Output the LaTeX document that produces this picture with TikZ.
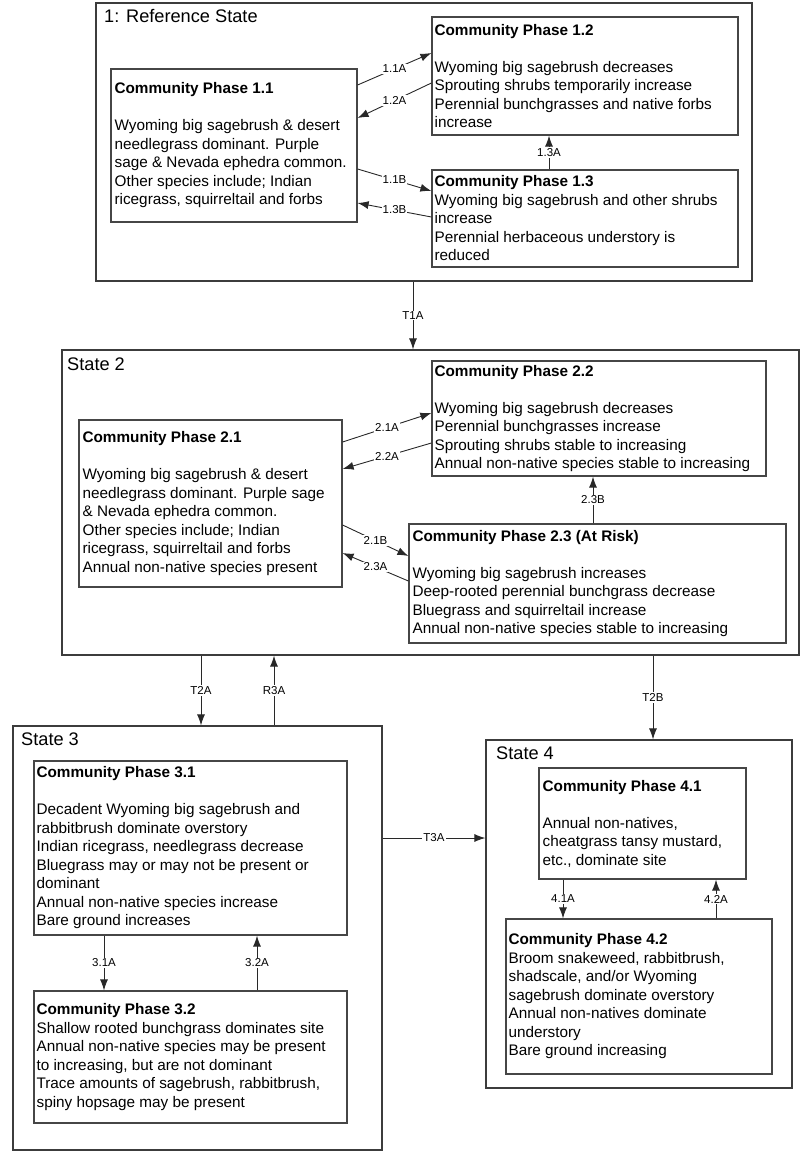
\documentclass[tikz,border=0pt]{standalone}
\usepackage{fontspec}
\setmainfont{Liberation Sans}
\usetikzlibrary{arrows.meta}
\begin{document}
\begin{tikzpicture}[x=1pt,y=-1pt,
  statebox/.style={draw={rgb,255:red,60;green,60;blue,60}, line width=1.2pt, rectangle, inner sep=0pt},
  cpbox/.style={draw={rgb,255:red,70;green,70;blue,70}, line width=1.2pt, rectangle, inner sep=0pt},
  body/.style={align=left, inner sep=0pt, font=\fontsize{15.3}{18.5}\selectfont},
  stitle/.style={inner sep=0pt, font=\fontsize{18.2}{22}\selectfont},
  conn/.style={draw={rgb,255:red,40;green,40;blue,40}, line width=0.9pt, -{Latex[length=11pt,width=8pt]}},
  lab/.style={fill=white, inner sep=1pt, font=\fontsize{11.5}{13}\selectfont}
]
\useasboundingbox (0,0) rectangle (800,1152);

% states
\node[statebox, minimum width=656pt, minimum height=278pt] (s1) at (424,142) {};
\node[statebox, minimum width=737pt, minimum height=305pt] (s2) at (430.5,502.5) {};
\node[statebox, minimum width=369pt, minimum height=424pt] (s3) at (197.5,938) {};
\node[statebox, minimum width=306pt, minimum height=348pt] (s4) at (639,914) {};
\node[stitle, anchor=base west] (s1t) at (104,22.5) {1: Reference State};
\node[stitle, anchor=base west] (s2t) at (67,370.5) {State 2};
\node[stitle, anchor=base west] (s3t) at (21,745.5) {State 3};
\node[stitle, anchor=base west] (s4t) at (496,759.5) {State 4};

% community phase boxes
\node[cpbox, minimum width=246pt, minimum height=153pt] (b11) at (234,145.5) {};
\node[cpbox, minimum width=306pt, minimum height=118pt] (b12) at (585,76) {};
\node[cpbox, minimum width=306pt, minimum height=97pt] (b13) at (585,218.5) {};
\node[cpbox, minimum width=263pt, minimum height=167pt] (b21) at (210.5,503.5) {};
\node[cpbox, minimum width=334pt, minimum height=115pt] (b22) at (599,418.5) {};
\node[cpbox, minimum width=377pt, minimum height=119pt] (b23) at (597.5,583.5) {};
\node[cpbox, minimum width=313pt, minimum height=174pt] (b31) at (190.5,848) {};
\node[cpbox, minimum width=313pt, minimum height=132pt] (b32) at (190.5,1057) {};
\node[cpbox, minimum width=207pt, minimum height=111pt] (b41) at (642.5,823.5) {};
\node[cpbox, minimum width=266pt, minimum height=155pt] (b42) at (639,996.5) {};

% texts
\node[body, anchor=west] (t11) at ([xshift=4pt]b11.west) {\textbf{Community Phase 1.1}\\[18.5pt]
Wyoming big sagebrush \& desert\\ needlegrass dominant. Purple\\ sage \& Nevada ephedra common.\\ Other species include; Indian\\ ricegrass, squirreltail and forbs};
\node[body, anchor=west] (t12) at ([xshift=3pt]b12.west) {\textbf{Community Phase 1.2}\\[18.5pt]
Wyoming big sagebrush decreases\\ Sprouting shrubs temporarily increase\\ Perennial bunchgrasses and native forbs\\ increase};
\node[body, anchor=west] (t13) at ([xshift=3pt]b13.west) {\textbf{Community Phase 1.3}\\
Wyoming big sagebrush and other shrubs\\ increase\\ Perennial herbaceous understory is\\ reduced};
\node[body, anchor=west] (t21) at ([xshift=4pt]b21.west) {\textbf{Community Phase 2.1}\\[18.5pt]
Wyoming big sagebrush \& desert\\ needlegrass dominant. Purple sage\\ \& Nevada ephedra common.\\ Other species include; Indian\\ ricegrass, squirreltail and forbs\\ Annual non-native species present};
\node[body, anchor=west] (t22) at ([xshift=3pt]b22.west) {\textbf{Community Phase 2.2}\\[18.5pt]
Wyoming big sagebrush decreases\\ Perennial bunchgrasses increase\\ Sprouting shrubs stable to increasing\\ Annual non-native species stable to increasing};
\node[body, anchor=west] (t23) at ([xshift=4pt]b23.west) {\textbf{Community Phase 2.3 (At Risk)}\\[18.5pt]
Wyoming big sagebrush increases\\ Deep-rooted perennial bunchgrass decrease\\ Bluegrass and squirreltail increase\\ Annual non-native species stable to increasing};
\node[body, anchor=west] (t31) at ([xshift=3pt]b31.west) {\textbf{Community Phase 3.1}\\[18.5pt]
Decadent Wyoming big sagebrush and\\ rabbitbrush dominate overstory\\ Indian ricegrass, needlegrass decrease\\ Bluegrass may or may not be present or\\ dominant\\ Annual non-native species increase\\ Bare ground increases};
\node[body, anchor=west] (t32) at ([xshift=3pt]b32.west) {\textbf{Community Phase 3.2}\\
Shallow rooted bunchgrass dominates site\\ Annual non-native species may be present\\ to increasing, but are not dominant\\ Trace amounts of sagebrush, rabbitbrush,\\ spiny hopsage may be present};
\node[body, anchor=west] (t41) at ([xshift=4pt]b41.west) {\textbf{Community Phase 4.1}\\[18.5pt]
Annual non-natives,\\ cheatgrass tansy mustard,\\ etc., dominate site};
\node[body, anchor=west] (t42) at ([xshift=3pt]b42.west) {\textbf{Community Phase 4.2}\\
Broom snakeweed, rabbitbrush,\\ shadscale, and/or Wyoming\\ sagebrush dominate overstory\\ Annual non-natives dominate\\ understory\\ Bare ground increasing};

% connectors state 1
\draw[conn] (b11.east |- 0,85) -- node[lab]{1.1A} (b12.west |- 0,53);
\draw[conn] (b12.west |- 0,83) -- node[lab]{1.2A} (b11.east |- 0,118);
\draw[conn] (b11.east |- 0,169) -- node[lab]{1.1B} (b13.west |- 0,191);
\draw[conn] (b13.west |- 0,217) -- node[lab]{1.3B} (b11.east |- 0,203);
\draw[conn] (b13.north -| 549,0) -- node[lab]{1.3A} (b12.south -| 549,0);
% T1A
\draw[conn] (s1.south -| 413,0) -- node[lab]{T1A} (s2.north -| 413,0);
% state 2
\draw[conn] (b21.east |- 0,442) -- node[lab]{2.1A} (b22.west |- 0,413);
\draw[conn] (b22.west |- 0,443) -- node[lab]{2.2A} (b21.east |- 0,469);
\draw[conn] (b21.east |- 0,525) -- node[lab]{2.1B} (b23.west |- 0,556);
\draw[conn] (b23.west |- 0,581) -- node[lab]{2.3A} (b21.east |- 0,553);
\draw[conn] (b23.north -| 593,0) -- node[lab]{2.3B} (b22.south -| 593,0);
% between states
\draw[conn] (s2.south -| 201,0) -- node[lab]{T2A} (s3.north -| 201,0);
\draw[conn] (s3.north -| 274,0) -- node[lab]{R3A} (s2.south -| 274,0);
\draw[conn] (s2.south -| 653,0) -- node[lab]{T2B} (s4.north -| 653,0);
\draw[conn] (s3.east |- 0,838) -- node[lab]{T3A} (s4.west |- 0,838);
% state 3
\draw[conn] (b31.south -| 104,0) -- node[lab]{3.1A} (b32.north -| 104,0);
\draw[conn] (b32.north -| 257,0) -- node[lab]{3.2A} (b31.south -| 257,0);
% state 4
\draw[conn] (b41.south -| 563,0) -- node[lab]{4.1A} (b42.north -| 563,0);
\draw[conn] (b42.north -| 716,0) -- node[lab]{4.2A} (b41.south -| 716,0);
\end{tikzpicture}
\end{document}
